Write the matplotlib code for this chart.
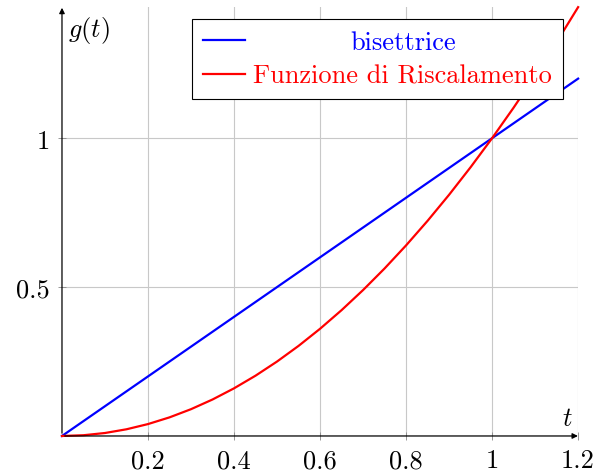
import matplotlib
matplotlib.use("Agg")
import matplotlib.pyplot as plt
import numpy as np

plt.rcParams['font.family'] = 'cmr10'
plt.rcParams['mathtext.fontset'] = 'cm'
plt.rcParams['axes.formatter.use_mathtext'] = True

# sampled curves
t_vals = [0, 0.05, 0.1, 0.15, 0.2, 0.25, 0.3, 0.35, 0.4, 0.45, 0.5, 0.55, 0.6,
          0.65, 0.7, 0.75, 0.8, 0.85, 0.9, 0.95, 1.0, 1.05, 1.1, 1.15, 1.2]
bis_vals = list(t_vals)
risc_vals = [0, 0.0025, 0.01, 0.0225, 0.04, 0.0625, 0.09, 0.1225, 0.16, 0.2025, 0.25,
             0.3025, 0.36, 0.4225, 0.49, 0.5625, 0.64, 0.7225, 0.81, 0.9025, 1.0,
             1.1025, 1.21, 1.3225, 1.44]

xticks = [0.2, 0.4, 0.6, 0.8, 1, 1.2]
xtick_labels = ["0.2", "0.4", "0.6", "0.8", "1", "1.2"]
yticks = [0.5, 1]
ytick_labels = ["0.5", "1"]

fs = 19
fig = plt.figure(figsize=(5.96, 4.77), dpi=100)
ax = fig.add_axes([0.104, 0.0839, 0.866, 0.899])

ax.plot(t_vals, bis_vals, color='blue', lw=1.6, label='bisettrice', clip_on=False, zorder=3)
ax.plot(t_vals, risc_vals, color='red', lw=1.6, label='Funzione di Riscalamento', clip_on=False, zorder=3)

ax.set_xlim(0, 1.2)
ax.set_ylim(0, 1.44)
ax.set_xticks(xticks)
ax.set_xticklabels(xtick_labels, fontsize=fs)
ax.set_yticks(yticks)
ax.set_yticklabels(ytick_labels, fontsize=fs)
ax.tick_params(direction='inout', length=6, width=0.6, color='#888888', pad=6)
ax.grid(True, color='#c8c8c8', lw=0.8)
for s in ax.spines.values():
    s.set_visible(False)

# axis arrows
ax.annotate('', xy=(1.005, 0), xytext=(0, 0), xycoords='axes fraction',
            arrowprops=dict(arrowstyle='-|>', color='black', lw=0.9, mutation_scale=8), zorder=4)
ax.annotate('', xy=(0, 1.005), xytext=(0, 0), xycoords='axes fraction',
            arrowprops=dict(arrowstyle='-|>', color='black', lw=0.9, mutation_scale=8), zorder=4)

ax.text(0.012, 0.985, r'$g(t)$', transform=ax.transAxes, fontsize=fs, ha='left', va='top')
ax.text(0.99, 0.015, r'$t$', transform=ax.transAxes, fontsize=fs, ha='right', va='bottom')

leg = ax.legend(loc='upper right', bbox_to_anchor=(0.971, 0.972), fontsize=fs,
                frameon=True, fancybox=False, edgecolor='black', framealpha=1,
                handlelength=1.6, handletextpad=0.3, borderpad=0.42, labelspacing=0.38,
                borderaxespad=0)
leg.get_frame().set_linewidth(0.8)
for txt, ln in zip(leg.get_texts(), leg.get_lines()):
    txt.set_color(ln.get_color())

# centre the shorter label in the legend column
fig.canvas.draw()
w0 = leg.texts[0].get_window_extent().width
w1 = leg.texts[1].get_window_extent().width
leg.texts[0].set_x((w1 - w0) / 2)

fig.savefig('out.png', dpi=100)
